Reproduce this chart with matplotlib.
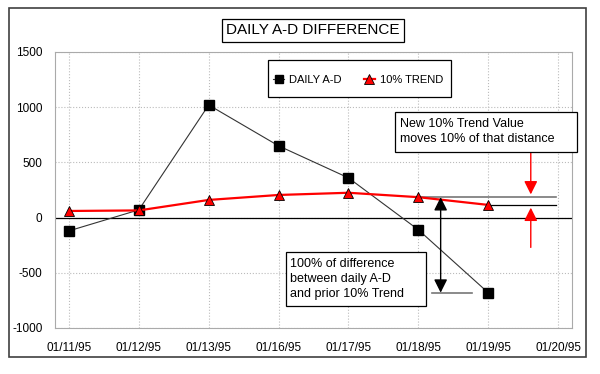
import matplotlib.pyplot as plt
from matplotlib.patches import Rectangle

# data
dates = ['01/11/95', '01/12/95', '01/13/95', '01/16/95', '01/17/95',
         '01/18/95', '01/19/95', '01/20/95']
daily_ad = [-120, 70, 1020, 650, 360, -110, -680]
trend = [60, 65, 160, 205, 225, 185, 115]

plt.rcParams['font.family'] = ['Liberation Sans', 'DejaVu Sans']
plt.rcParams['axes.unicode_minus'] = False

W, H = 600, 374
fig = plt.figure(figsize=(6, 3.74), dpi=100)
fig.patch.set_facecolor('white')


def px_box(x0, y0, x1, y1, **kw):
    # rectangle given in pixel coords (origin top-left)
    r = Rectangle((x0 / W, 1 - y1 / H), (x1 - x0) / W, (y1 - y0) / H,
                  transform=fig.transFigure, **kw)
    fig.patches.append(r)


def px_text(x, y, s, **kw):
    fig.text(x / W, 1 - y / H, s, **kw)


# outer chart frame
px_box(9, 8, 586, 357, fill=False, edgecolor='#404040', linewidth=1.2, zorder=0)

ax = fig.add_axes([55 / W, 1 - 328 / H, 517 / W, 276 / H])
x = list(range(len(dates)))

ax.plot(x[:len(daily_ad)], daily_ad, color='#333333', linewidth=0.8,
        marker='s', markersize=7, markerfacecolor='black',
        markeredgecolor='black', label='DAILY A-D', zorder=3)
ax.plot(x[:len(trend)], trend, color='red', linewidth=1.6,
        marker='^', markersize=7.5, markerfacecolor='red',
        markeredgecolor='black', markeredgewidth=0.6,
        label='10% TREND', zorder=4)

ax.set_xlim(-0.2, len(dates) - 0.8)
ax.set_ylim(-1000, 1500)
ax.set_xticks(x)
ax.set_xticklabels(dates)
ax.set_yticks([-1000, -500, 0, 500, 1000, 1500])
ax.tick_params(labelsize=8.5, length=0)
ax.tick_params(axis='x', pad=10)
ax.tick_params(axis='y', pad=9)
ax.grid(True, color='#bbbbbb', linestyle=':', linewidth=0.8)
ax.set_axisbelow(True)
for s in ax.spines.values():
    s.set_color('#aaaaaa')
    s.set_linewidth(0.8)
ax.axhline(0, color='black', linewidth=0.9, zorder=2)

# annotation lines
ax.plot([5, 6.97], [trend[5], trend[5]], color='#777777', linewidth=1.2, zorder=2)
ax.plot([6, 6.97], [trend[6], trend[6]], color='black', linewidth=0.9, zorder=2)
ax.plot([5.19, 5.77], [daily_ad[6], daily_ad[6]], color='#777777', linewidth=1.2, zorder=2)

ax.annotate('', xy=(5.32, daily_ad[6]), xytext=(5.32, trend[5]),
            arrowprops=dict(arrowstyle='<|-|>', color='black', lw=1,
                            mutation_scale=20, shrinkA=0, shrinkB=0), zorder=5)
ax.annotate('', xy=(6.61, trend[5]), xytext=(6.61, 590),
            arrowprops=dict(arrowstyle='-|>', color='red', lw=1,
                            mutation_scale=20, shrinkA=0, shrinkB=2), zorder=5)
ax.annotate('', xy=(6.61, trend[6]), xytext=(6.61, -270),
            arrowprops=dict(arrowstyle='-|>', color='red', lw=1,
                            mutation_scale=20, shrinkA=0, shrinkB=2), zorder=5)

# legend: frame drawn separately so its size matches the reference
px_box(268, 60, 451, 97, facecolor='white', edgecolor='black', linewidth=0.9, zorder=5)
handles, labels = ax.get_legend_handles_labels()
leg = fig.legend(handles, labels, loc='center left',
                 bbox_to_anchor=(273 / W, 1 - 80 / H),
                 ncol=2, fontsize=8, frameon=False,
                 handlelength=1.0, handletextpad=0.45, columnspacing=2.0,
                 borderpad=0, borderaxespad=0, markerscale=0.9)
leg.set_zorder(6)

# text boxes
px_box(395, 112, 577, 152, facecolor='white', edgecolor='black', linewidth=0.9, zorder=5)
px_text(400, 124, 'New 10% Trend Value', fontsize=9, va='center', zorder=6)
px_text(400, 139, 'moves 10% of that distance', fontsize=9, va='center', zorder=6)

px_box(286, 252, 426, 306, facecolor='white', edgecolor='black', linewidth=0.9, zorder=5)
px_text(290, 264, '100% of difference', fontsize=9, va='center', zorder=6)
px_text(290, 279, 'between daily A-D', fontsize=9, va='center', zorder=6)
px_text(290, 294, 'and prior 10% Trend', fontsize=9, va='center', zorder=6)

# title box
px_box(222, 19, 404, 42, facecolor='white', edgecolor='black', linewidth=0.9, zorder=5)
px_text(313, 30.5, 'DAILY A-D DIFFERENCE', fontsize=11, ha='center', va='center', zorder=6)

fig.savefig('out.png', dpi=100)
